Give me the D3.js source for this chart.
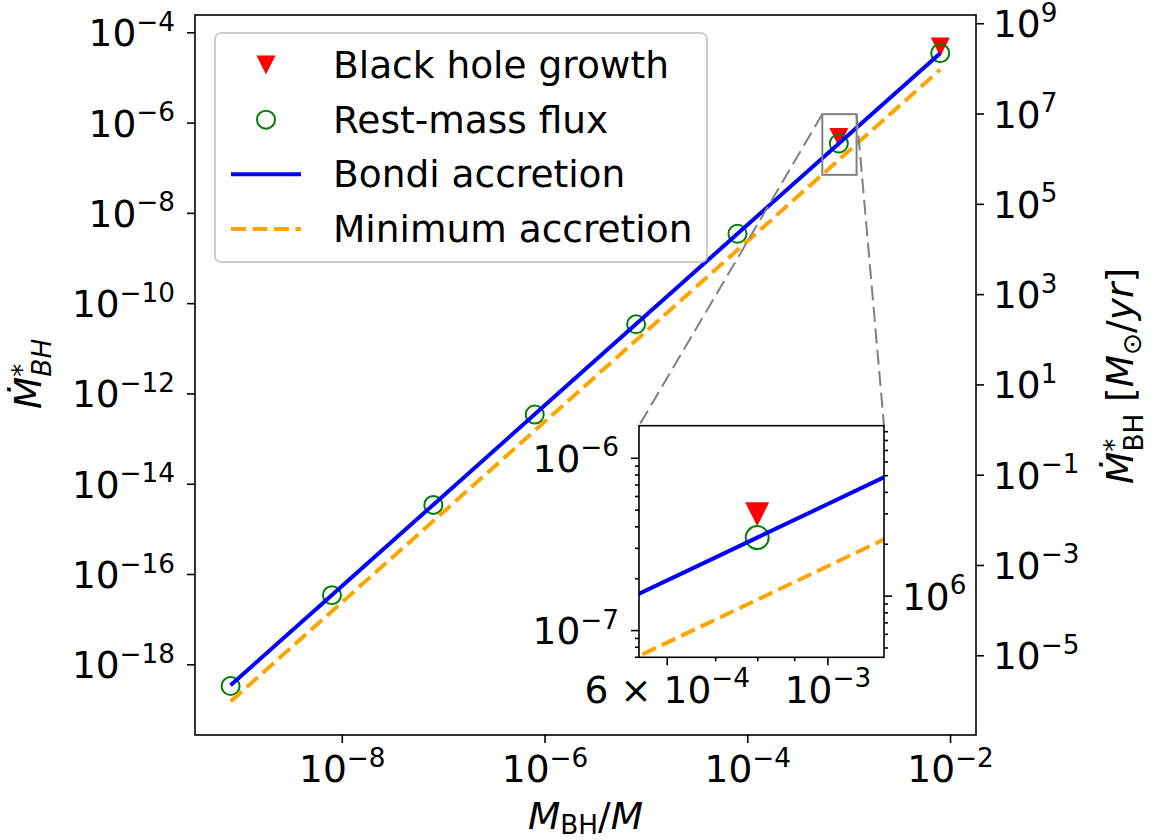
<!DOCTYPE html>
<html>
<head>
<meta charset="utf-8">
<script src="https://cdn.jsdelivr.net/npm/d3@7"></script>
<style>
  body { margin: 0; background: #fff; }
  text { font-family: "DejaVu Sans"; }
</style>
</head>
<body>
<script>
// DATA
const massRatio      = [8e-10, 8e-9, 8e-8, 8e-7, 8e-6, 8e-5, 8e-4, 8e-3];
const restMassFlux   = [3.3e-19, 3.4e-17, 3.4e-15, 3.4e-13, 3.4e-11, 3.45e-9, 3.44e-7, 3.45e-5];
const bhGrowthMass   = [8e-4, 8e-3];
const bhGrowthRate   = [4.7e-7, 4.7e-5];
const bondiRate      = [3.44e-19, 3.44e-17, 3.44e-15, 3.44e-13, 3.44e-11, 3.44e-9, 3.44e-7, 3.44e-5];
const minimumRate    = [1.5e-19, 1.5e-17, 1.5e-15, 1.5e-13, 1.5e-11, 1.5e-9, 1.5e-7, 1.5e-5];
const legendLabels   = ["Black hole growth", "Rest-mass flux", "Bondi accretion", "Minimum accretion"];

// AXIS LIMITS AND TICKS
const xLimits        = [3.565e-10, 1.803e-2];
const yLimits        = [2.716e-20, 2.415e-4];
const unitFactor     = 6.31e12;          // code units -> Msun/yr
const xTicks         = [1e-8, 1e-6, 1e-4, 1e-2];
const yTicks         = [1e-18, 1e-16, 1e-14, 1e-12, 1e-10, 1e-8, 1e-6, 1e-4];
const yTicksPhys     = [1e-5, 1e-3, 1e-1, 1e1, 1e3, 1e5, 1e7, 1e9];
const insetXLimits   = [5.495e-4, 1.197e-3];
const insetYLimits   = [6.95e-8, 1.535e-6];
const insetXTicks    = [6e-4, 1e-3];
const insetYTicks    = [1e-7, 1e-6];
const insetYTicksPhys = [1e6];

const FONT = 37.5, SUP = 26.25;

//SVG
const svg = d3.select("body").append("svg")
    .attr("width", 1152).attr("height", 840);

// SCALES
const plot = {left: 195, right: 976, top: 15, bottom: 735};
const X  = d3.scaleLog().domain(xLimits).range([plot.left, plot.right]);
const Y  = d3.scaleLog().domain(yLimits).range([plot.bottom, plot.top]);
const Y2 = d3.scaleLog().domain(yLimits.map(v => v * unitFactor)).range([plot.bottom, plot.top]);

const ins = {left: 639, right: 884, top: 425.7, bottom: 657.3};
const IX  = d3.scaleLog().domain(insetXLimits).range([ins.left, ins.right]);
const IY  = d3.scaleLog().domain(insetYLimits).range([ins.bottom, ins.top]);
const IY2 = d3.scaleLog().domain(insetYLimits.map(v => v * unitFactor)).range([ins.bottom, ins.top]);

// HELPERS
const tri = s => `M${-s/2},${-s/2}L${s/2},${-s/2}L0,${s/2}Z`;
const supText = e => e < 0 ? "\u2212" + (-e) : String(e);

function powerText(t, value, dy){
    const e = Math.round(Math.log10(value));
    t.text(null).attr("dy", dy);
    t.append("tspan").text("10");
    t.append("tspan").attr("dy", -15.5).attr("font-size", SUP).text(supText(e));
}

function styleAxis(g, labels){
    g.attr("font-size", FONT).attr("font-family", "DejaVu Sans");
    g.select(".domain").remove();
    g.selectAll(".tick line").attr("stroke-width", 1.6);
    if (labels) g.selectAll(".tick text").each(function(d){ labels(d3.select(this), d); });
}

function drawSeries(g, sx, sy, circleR, triSize){
    const line = d3.line().x(d => sx(d[0])).y(d => sy(d[1]));
    g.selectAll(".bh").data(d3.zip(bhGrowthMass, bhGrowthRate)).enter()
        .append("path").attr("class", "bh")
        .attr("d", tri(triSize))
        .attr("transform", d => `translate(${sx(d[0])},${sy(d[1])})`)
        .attr("fill", "#ff0000");
    g.selectAll(".flux").data(d3.zip(massRatio, restMassFlux)).enter()
        .append("circle").attr("class", "flux")
        .attr("cx", d => sx(d[0])).attr("cy", d => sy(d[1]))
        .attr("r", circleR)
        .attr("fill", "none").attr("stroke", "#008000").attr("stroke-width", 2);
    g.append("path").datum(d3.zip(massRatio, bondiRate))
        .attr("d", line).attr("fill", "none")
        .attr("stroke", "#0000ff").attr("stroke-width", 4);
    g.append("path").datum(d3.zip(massRatio, minimumRate))
        .attr("d", line).attr("fill", "none")
        .attr("stroke", "#ffa500").attr("stroke-width", 4)
        .attr("stroke-dasharray", "15,6.5");
}

// MAIN AXES
const main = svg.append("g");
drawSeries(main, X, Y, 9, 19);

main.append("g").attr("transform", `translate(0,${plot.bottom})`)
    .call(d3.axisBottom(X).tickValues(xTicks).tickSize(8))
    .call(g => styleAxis(g, (t, d) => { powerText(t.attr("y", 47), d, 0); }));
main.append("g").attr("transform", `translate(${plot.left},0)`)
    .call(d3.axisLeft(Y).tickValues(yTicks).tickSize(8).tickPadding(12))
    .call(g => styleAxis(g, (t, d) => powerText(t, d, 13.5)));
main.append("g").attr("transform", `translate(${plot.right},0)`)
    .call(d3.axisRight(Y2).tickValues(yTicksPhys).tickSize(8).tickPadding(9))
    .call(g => styleAxis(g, (t, d) => powerText(t, d, 13.5)));

main.append("rect")
    .attr("x", plot.left).attr("y", plot.top)
    .attr("width", plot.right - plot.left).attr("height", plot.bottom - plot.top)
    .attr("fill", "none").attr("stroke", "#000").attr("stroke-width", 1.6);

// AXIS LABELS
const xl = svg.append("text").attr("x", (plot.left + plot.right) / 2).attr("y", 829)
    .attr("text-anchor", "middle").attr("font-size", FONT);
xl.append("tspan").attr("font-style", "italic").text("M");
xl.append("tspan").attr("font-size", SUP).attr("dy", 5).text("BH");
xl.append("tspan").attr("dy", -5).text("/");
xl.append("tspan").attr("font-style", "italic").text("M");

function rateLabel(x, y, italicSub, unit){
    const t = svg.append("text")
        .attr("transform", `translate(${x},${y}) rotate(-90)`)
        .attr("text-anchor", "middle").attr("font-size", FONT);
    t.append("tspan").attr("font-style", "italic").text("M\u0307");
    t.append("tspan").attr("font-size", SUP).attr("dy", -10).text("*");
    t.append("tspan").attr("font-size", SUP).attr("dy", 20).attr("dx", -13)
        .attr("font-style", italicSub ? "italic" : "normal").text("BH");
    if (unit){
        t.append("tspan").attr("dy", -10).text(" [");
        t.append("tspan").attr("font-style", "italic").text("M");
        t.append("tspan").attr("font-size", SUP).attr("dy", 8).text("\u2299");
        t.append("tspan").attr("dy", -8).text("/");
        t.append("tspan").attr("font-style", "italic").text("yr");
        t.append("tspan").text("]");
    }
}
rateLabel(41, 374, true, false);
rateLabel(1133, 376, false, true);

// LEGEND
const legend = svg.append("g");
legend.append("rect")
    .attr("x", 215).attr("y", 33).attr("width", 492).attr("height", 229).attr("rx", 6)
    .attr("fill", "#fff").attr("fill-opacity", 0.8)
    .attr("stroke", "#cccccc").attr("stroke-width", 2);
const ly = d3.scalePoint().domain(legendLabels).range([65, 229]);
legend.selectAll(".legend-text").data(legendLabels).enter()
    .append("text").attr("class", "legend-text")
    .attr("x", 333).attr("y", d => ly(d) + 13)
    .attr("font-size", FONT).text(d => d);
legend.append("path").attr("d", tri(19))
    .attr("transform", `translate(266,${ly(legendLabels[0])})`).attr("fill", "#ff0000");
legend.append("circle").attr("cx", 266).attr("cy", ly(legendLabels[1])).attr("r", 9)
    .attr("fill", "none").attr("stroke", "#008000").attr("stroke-width", 2);
legend.append("line").attr("x1", 231).attr("x2", 301)
    .attr("y1", ly(legendLabels[2])).attr("y2", ly(legendLabels[2]))
    .attr("stroke", "#0000ff").attr("stroke-width", 4);
legend.append("line").attr("x1", 231).attr("x2", 301)
    .attr("y1", ly(legendLabels[3])).attr("y2", ly(legendLabels[3]))
    .attr("stroke", "#ffa500").attr("stroke-width", 4).attr("stroke-dasharray", "15,6.5");

// ZOOM MARK + CONNECTORS
const zx0 = X(insetXLimits[0]), zx1 = X(insetXLimits[1]);
const zy0 = Y(insetYLimits[1]), zy1 = Y(insetYLimits[0]);
svg.append("rect").attr("x", zx0).attr("y", zy0)
    .attr("width", zx1 - zx0).attr("height", zy1 - zy0)
    .attr("fill", "none").attr("stroke", "#808080").attr("stroke-width", 2);
[[zx0, ins.left], [zx1, ins.right]].forEach(([a, b]) => {
    svg.append("line").attr("x1", a).attr("y1", zy0).attr("x2", b).attr("y2", ins.top)
        .attr("stroke", "#808080").attr("stroke-width", 2).attr("stroke-dasharray", "15,6.5");
});

// INSET
const inset = svg.append("g");
inset.append("rect").attr("x", ins.left).attr("y", ins.top)
    .attr("width", ins.right - ins.left).attr("height", ins.bottom - ins.top).attr("fill", "#fff");
svg.append("clipPath").attr("id", "inset-clip").append("rect")
    .attr("x", ins.left).attr("y", ins.top)
    .attr("width", ins.right - ins.left).attr("height", ins.bottom - ins.top);
const insetData = inset.append("g").attr("clip-path", "url(#inset-clip)");
drawSeries(insetData, IX, IY, 11.5, 24);

const minor = (scale, majors) => scale.ticks().filter(v => !majors.some(m => Math.abs(m - v) / m < 1e-6));

inset.append("g").attr("transform", `translate(0,${ins.bottom})`)
    .call(d3.axisBottom(IX).tickValues(minor(IX, insetXTicks)).tickSize(4).tickFormat(""))
    .call(g => styleAxis(g));
inset.append("g").attr("transform", `translate(0,${ins.bottom})`)
    .call(d3.axisBottom(IX).tickValues(insetXTicks).tickSize(8))
    .call(g => styleAxis(g, (t, d) => {
        t.attr("y", 45.7);
        if (d < 9e-4) {
            t.text(null).attr("dy", 0);
            t.append("tspan").text("6 \u00d7 10");
            t.append("tspan").attr("dy", -15.5).attr("font-size", SUP).text("\u22124");
        } else powerText(t, d, 0);
    }));
inset.append("g").attr("transform", `translate(${ins.left},0)`)
    .call(d3.axisLeft(IY).tickValues(minor(IY, insetYTicks)).tickSize(4).tickFormat(""))
    .call(g => styleAxis(g));
inset.append("g").attr("transform", `translate(${ins.left},0)`)
    .call(d3.axisLeft(IY).tickValues(insetYTicks).tickSize(8).tickPadding(12))
    .call(g => styleAxis(g, (t, d) => powerText(t, d, 13.5)));
inset.append("g").attr("transform", `translate(${ins.right},0)`)
    .call(d3.axisRight(IY2).tickValues(minor(IY2, insetYTicksPhys)).tickSize(4).tickFormat(""))
    .call(g => styleAxis(g));
inset.append("g").attr("transform", `translate(${ins.right},0)`)
    .call(d3.axisRight(IY2).tickValues(insetYTicksPhys).tickSize(8).tickPadding(10))
    .call(g => styleAxis(g, (t, d) => powerText(t, d, 13.5)));
inset.append("rect").attr("x", ins.left).attr("y", ins.top)
    .attr("width", ins.right - ins.left).attr("height", ins.bottom - ins.top)
    .attr("fill", "none").attr("stroke", "#000").attr("stroke-width", 1.6);
</script>
</body>
</html>
